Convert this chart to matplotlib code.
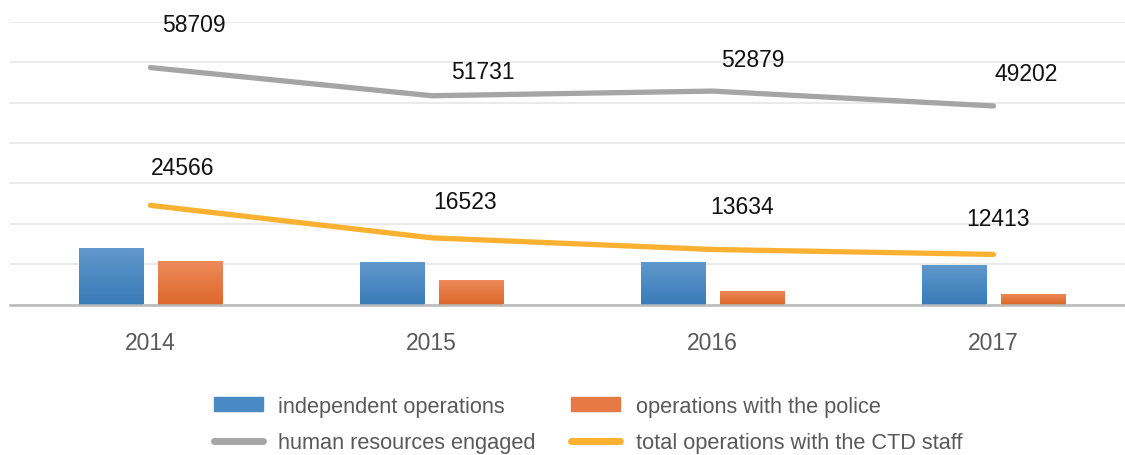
import numpy as np
import matplotlib.pyplot as plt
from matplotlib.colors import LinearSegmentedColormap
from matplotlib.lines import Line2D
from matplotlib.patches import Patch

plt.rcParams['font.family'] = ['Liberation Sans', 'DejaVu Sans']

# ---- data ----
years = ['2014', '2015', '2016', '2017']
independent_ops = [14000, 10500, 10500, 9800]
police_ops = [10800, 6100, 3300, 2600]
human_resources = [58709, 51731, 52879, 49202]
total_ctd = [24566, 16523, 13634, 12413]

# label offsets in pixels (placement only)
hr_offsets = [(43, 43), (51, 24), (40, 32), (33, 32)]
ctd_offsets = [(32, 38), (34, 36), (30, 43), (4, 36)]

BLUE_TOP, BLUE_BOT = '#6199cc', '#397bb8'
ORANGE_TOP, ORANGE_BOT = '#f08a5b', '#dc692c'
GRAY = '#a5a5a5'
GOLD = '#fab131'
TXT = '#595959'

fig = plt.figure(figsize=(11.25, 4.56), dpi=100)
W, H = 1125, 456
ax = fig.add_axes([10 / W, 1 - 305.5 / H, 1 - 10 / W, (305.5 - 23) / H])

x = np.arange(len(years))
bw = 0.228
off = 0.142

b1 = ax.bar(x - off, independent_ops, bw, color=BLUE_BOT, zorder=2)
b2 = ax.bar(x + off, police_ops, bw, color=ORANGE_BOT, zorder=2)


def gradient(bars, top, bot):
    cmap = LinearSegmentedColormap.from_list('g', [bot, top])
    grad = np.linspace(0, 1, 256).reshape(-1, 1)
    for p in bars:
        x0, y0, w, h = p.get_x(), p.get_y(), p.get_width(), p.get_height()
        im = ax.imshow(grad, cmap=cmap, aspect='auto', origin='lower',
                       extent=(x0, x0 + w, y0, y0 + h), zorder=2.1)
        im.set_clip_path(p)


gradient(b1, BLUE_TOP, BLUE_BOT)
gradient(b2, ORANGE_TOP, ORANGE_BOT)

ax.plot(x, human_resources, color=GRAY, lw=3.8, solid_capstyle='round', zorder=3)
ax.plot(x, total_ctd, color=GOLD, lw=3.8, solid_capstyle='round', zorder=3)

for xi, v, o in zip(x, human_resources, hr_offsets):
    ax.annotate(str(v), (xi, v), xytext=o, textcoords='offset pixels',
                ha='center', va='center', fontsize=16.5, color='#111111')
for xi, v, o in zip(x, total_ctd, ctd_offsets):
    ax.annotate(str(v), (xi, v), xytext=o, textcoords='offset pixels',
                ha='center', va='center', fontsize=16.5, color='#111111')

ax.set_xlim(-0.5, -0.5 + (W - 10) / 281)
ax.set_ylim(0, 70000)
ax.set_yticks(np.arange(0, 70001, 10000))
ax.set_yticklabels([])
ax.tick_params(axis='y', length=0)
ax.grid(axis='y', color='#e8e8e8', lw=1.3, zorder=0)
ax.set_axisbelow(True)
for s in ['top', 'right', 'left']:
    ax.spines[s].set_visible(False)
ax.spines['bottom'].set_color('#b8b8b8')
ax.spines['bottom'].set_linewidth(1.8)
ax.set_xticks(x)
ax.set_xticklabels(years, fontsize=16.5, color=TXT)
ax.tick_params(axis='x', length=0, pad=19)

handles = [Patch(color='#4a8ac4'), Line2D([], [], color=GRAY, lw=5, solid_capstyle='round'),
           Patch(color='#e57a45'), Line2D([], [], color=GOLD, lw=5, solid_capstyle='round')]
labels = ['independent operations', 'human resources engaged',
          'operations with the police', 'total operations with the CTD staff']
fig.legend(handles, labels, ncol=2, loc='upper left', bbox_to_anchor=(194 / W, 1 - 377 / H),
           frameon=False, fontsize=15.7, labelcolor=TXT, handlelength=2.25,
           handleheight=0.6, handletextpad=0.72, columnspacing=1.6, labelspacing=0.72)

fig.savefig('out.png', dpi=100)
